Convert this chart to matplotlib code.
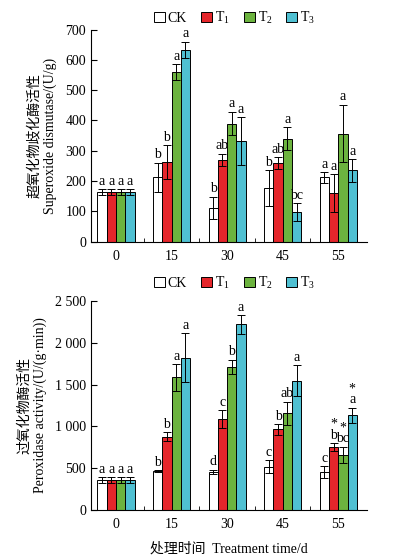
import numpy as np
import matplotlib
matplotlib.use("Agg")
import matplotlib.pyplot as plt
from matplotlib.patches import Patch

plt.rcParams['font.family'] = ['Liberation Serif', 'Noto Sans CJK SC']
plt.rcParams['font.size'] = 10
plt.rcParams['mathtext.fontset'] = 'custom'
plt.rcParams['mathtext.rm'] = 'Liberation Serif'

days = ['0', '15', '30', '45', '55']
series = ['CK', 'T$_1$', 'T$_2$', 'T$_3$']
colors = ['#ffffff', '#e5262b', '#6cb33f', '#4fc0d2']

# SOD, U/g
sod = [[163, 212, 112, 177, 212],
       [163, 263, 270, 260, 160],
       [163, 560, 390, 340, 357],
       [163, 633, 332, 97, 235]]
sod_err = [[10, 48, 36, 58, 17],
           [10, 55, 20, 19, 62],
           [10, 26, 38, 38, 95],
           [10, 27, 78, 30, 37]]
sod_lab = [['a', 'b', 'b', 'b', 'a'],
           ['a', 'b', 'ab', 'ab', 'a'],
           ['a', 'a', 'a', 'a', 'a'],
           ['a', 'a', 'a', 'bc', 'a']]

# POD, U/(g·min)
pod = [[360, 466, 458, 518, 458],
       [360, 877, 1088, 965, 750],
       [360, 1587, 1714, 1156, 658],
       [360, 1822, 2221, 1547, 1136]]
pod_err = [[35, 15, 25, 80, 70],
           [35, 50, 105, 65, 50],
           [35, 160, 85, 140, 100],
           [35, 290, 110, 185, 90]]
pod_lab = [['a', 'b', 'd', 'c', 'c'],
           ['a', 'b', 'c', 'b', '*\nb'],
           ['a', 'a', 'b', 'ab', '*\nbc'],
           ['a', 'a', 'a', 'a', '*\na']]

fig = plt.figure(figsize=(3.95, 5.57), dpi=100)
ax1 = fig.add_axes([0.2304, 0.566, 0.699, 0.381])
ax2 = fig.add_axes([0.2304, 0.0844, 0.699, 0.3752])

x = np.arange(len(days))
w = 0.167


def draw(ax, vals, errs, labs, ymax, step, pad, leg_y):
    for i in range(4):
        xs = x + (i - 1.5) * w
        ax.bar(xs, vals[i], w, color=colors[i], edgecolor='black', linewidth=0.7,
               yerr=errs[i], capsize=3, error_kw=dict(elinewidth=0.7, capthick=0.7, ecolor='black'))
        for j in range(len(days)):
            ax.text(xs[j], vals[i][j] + errs[i][j] + pad, labs[i][j], ha='center', va='bottom',
                    fontsize=10, linespacing=0.8)
    ax.set_xlim(-0.45, 4.52)
    ax.set_ylim(0, ymax)
    ax.spines['top'].set_visible(False)
    ax.spines['right'].set_visible(False)
    ax.set_xticks(x)
    ax.set_xticklabels(days)
    ax.tick_params(axis='x', length=0, pad=6, labelsize=10)
    ax.set_xticks(x[:-1] + 0.5, minor=True)
    ax.tick_params(axis='x', which='minor', direction='in', length=3)
    ax.set_yticks(np.arange(0, ymax + 1, step))
    ax.tick_params(axis='y', direction='in', length=4, labelsize=10)
    ax.legend(handles=[Patch(facecolor=c, edgecolor='black', linewidth=0.7) for c in colors],
              labels=series, loc='lower center', bbox_to_anchor=(0.52, leg_y), ncol=4, frameon=False,
              handlelength=0.8, handleheight=0.8, handletextpad=0.2, columnspacing=1.0,
              fontsize=10, borderaxespad=0.0)


draw(ax1, sod, sod_err, sod_lab, 700, 100, 5, 0.99)
draw(ax2, pod, pod_err, pod_lab, 2500, 500, 15, 1.02)

ax2.set_yticklabels(['0', '500', '1 000', '1 500', '2 000', '2 500'])

ax1.set_ylabel('超氧化物歧化酶活性\nSuperoxide dismutase/(U/g)', fontsize=10, labelpad=6)
ax2.set_ylabel('过氧化物酶活性\nPeroxidase activity/(U/(g·min))', fontsize=10, labelpad=6)
ax2.set_xlabel('处理时间  Treatment time/d', fontsize=10, labelpad=8)

fig.savefig('out.png', dpi=100)
